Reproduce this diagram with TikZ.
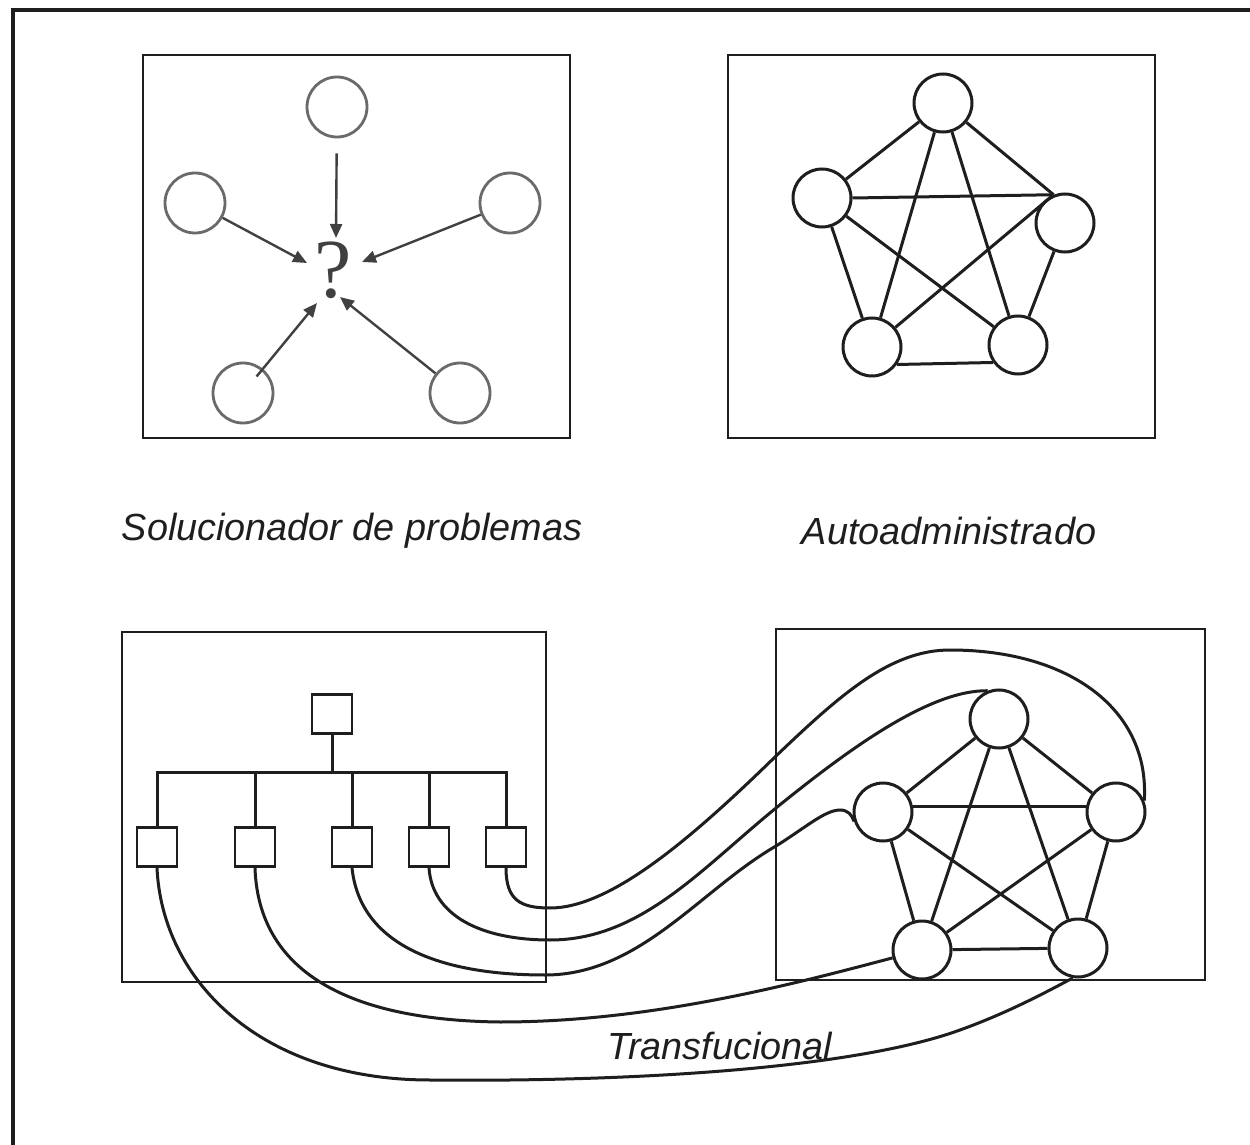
\documentclass[tikz,border=0pt]{standalone}
\usepackage{fontspec}
\setmainfont{Liberation Sans}
\newfontfamily\qfont{Liberation Serif}
\usetikzlibrary{arrows.meta}
\definecolor{ink}{HTML}{1E1E1E}
\definecolor{gring}{HTML}{6A6A6A}
\definecolor{garrow}{HTML}{404040}
\begin{document}
\begin{tikzpicture}[x=0.5pt,y=-0.5pt,
  frame/.style={draw=ink,line width=1.6pt},
  panel/.style={draw=ink,line width=1.1pt},
  circ/.style={circle,draw=ink,line width=1.5pt,minimum size=29pt,inner sep=0pt},
  gcirc/.style={circle,draw=gring,line width=1.4pt,minimum size=30pt,inner sep=0pt},
  sq/.style={rectangle,draw=ink,line width=1.3pt,minimum width=20pt,minimum height=19.5pt,inner sep=0pt},
  link/.style={draw=ink,line width=1.5pt},
  wire/.style={draw=ink,line width=1.5pt},
  arr/.style={draw=garrow,line width=1.2pt,-{Triangle[length=7pt,width=6pt]}},
  lbl/.style={font=\fontsize{18.9pt}{22pt}\selectfont\itshape,text=ink,inner sep=0pt}]
\useasboundingbox (0,0) rectangle (1250,1145);
\fill[white] (0,0) rectangle (1250,1145);

% outer frame
\draw[frame] (1250,10) -- (13,10) -- (13,1145);

% panels
\draw[panel] (143,55) rectangle (570,438);
\draw[panel] (728,55) rectangle (1155,438);
\draw[panel] (122,632) rectangle (546,982);
\draw[panel] (776,629) rectangle (1205,980);

% ---- top-left: Solucionador de problemas
\node[gcirc] (p1) at (337,107) {};
\node[gcirc] (p2) at (195,203) {};
\node[gcirc] (p3) at (510,203) {};
\node[gcirc] (p4) at (243,393) {};
\node[gcirc] (p5) at (460,393) {};
\node[font=\qfont\fontsize{42pt}{44pt}\selectfont,text=garrow,inner sep=0pt] (q) at (333,270) {?};
\coordinate (qT) at (336,238);
\coordinate (qL) at (307,263);
\coordinate (qR) at (362,262);
\coordinate (qBL) at (317,303);
\coordinate (qBR) at (340,297);
\draw[arr,shorten <=7.5pt] (p1) -- (qT);
\draw[arr] (p2) -- (qL);
\draw[arr] (p3) -- (qR);
\draw[arr,shorten <=-5pt] (p4) -- (qBL);
\draw[arr] (p5) -- (qBR);

% ---- top-right: Autoadministrado
\node[circ] (t1) at (943,103) {};
\node[circ] (t2) at (822,198) {};
\node[circ] (t3) at (1065,223) {};
\node[circ] (t4) at (872,347) {};
\node[circ] (t5) at (1018,345) {};
\draw[link] (t1) -- (t2);
\draw[link] (t1) -- (t3.112);
\draw[link] (t1) -- (t4);
\draw[link] (t1) -- (t5);
\draw[link] (t2.east) -- (t3.112);
\draw[link] (t2) -- (t4);
\draw[link] (t2) -- (t5);
\draw[link] (t3.112) -- (t4);
\draw[link] (t3) -- (t5);
\draw[link] (t4.-35) -- (t5.-145);

\node[lbl] (l1) at (352,531) {Solucionador de problemas};
\node[lbl] (l2) at (949,531) {Autoadministrado};

% ---- bottom-left: hierarchy
\node[sq] (s0) at (332,714) {};
\node[sq] (s1) at (157,847) {};
\node[sq] (s2) at (255,847) {};
\node[sq] (s3) at (352,847) {};
\node[sq] (s4) at (429,847) {};
\node[sq] (s5) at (506,847) {};
\coordinate (bus) at (332,772);
\draw[link] (s0) -- (bus);
\draw[link] (s1.north) -- (s1.north |- bus) -- (s5.north |- bus) -- (s5.north);
\draw[link] (s2.north) -- (s2.north |- bus);
\draw[link] (s3.north) -- (s3.north |- bus);
\draw[link] (s4.north) -- (s4.north |- bus);

% ---- bottom-right: network
\node[circ] (b1) at (999,719) {};
\node[circ] (b2) at (883,812) {};
\node[circ] (b3) at (1116,812) {};
\node[circ] (b4) at (922,950) {};
\node[circ] (b5) at (1078,948) {};
\draw[link] (b1) -- (b2);
\draw[link] (b1) -- (b3);
\draw[link] (b1) -- (b4);
\draw[link] (b1) -- (b5);
\draw[link] (b2.10) -- (b3.170);
\draw[link] (b2) -- (b4);
\draw[link] (b2) -- (b5);
\draw[link] (b3) -- (b4);
\draw[link] (b3) -- (b5);
\draw[link] (b4) -- (b5);

% ---- connecting wires
\draw[wire] (s5.south) .. controls (506,900) and (520,908) .. (550,908)
  .. controls (610,908) and (690,840) .. (776,756)
  .. controls (840,695) and (890,650) .. (950,650)
  .. controls (1070,650) and (1150,710) .. (b3.22);
\draw[wire] (s4.south) .. controls (432,915) and (480,940) .. (550,940)
  .. controls (640,940) and (700,870) .. (776,808)
  .. controls (850,748) and (930,690) .. (b1.112);
\draw[wire] (s3.south) .. controls (360,945) and (440,975) .. (545,975)
  .. controls (640,975) and (700,890) .. (776,846)
  .. controls (805,828) and (825,810) .. (840,810)
  .. controls (848,810) and (852,815) .. (b2.198);
\draw[wire] (s2.south) .. controls (258,960) and (330,1020) .. (500,1022)
  .. controls (650,1022) and (790,985) .. (b4.195);
\draw[wire] (s1.south) .. controls (162,980) and (260,1080) .. (430,1080)
  .. controls (620,1082) and (850,1070) .. (960,1030)
  .. controls (1010,1012) and (1050,990) .. (b5.-100);

\node[lbl] (l3) at (720,1046) {Transfucional};
\end{tikzpicture}
\end{document}
